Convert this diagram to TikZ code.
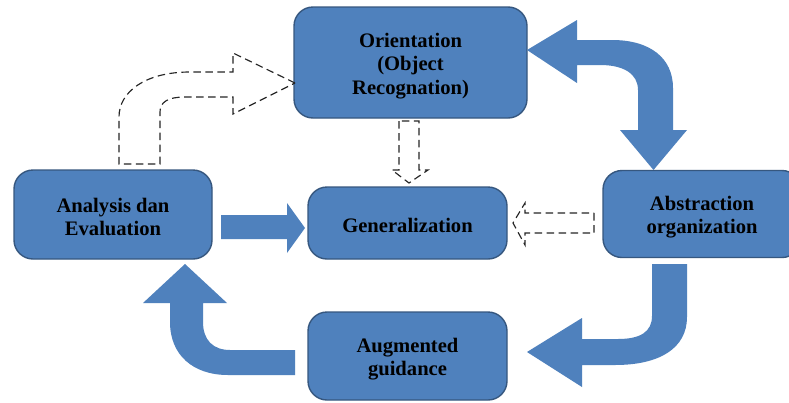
\documentclass[tikz,border=0pt]{standalone}
\usepackage{fontspec}
\setmainfont{Liberation Serif}
\definecolor{boxfill}{HTML}{4F81BD}
\definecolor{boxline}{HTML}{36577F}
\begin{document}
\begin{tikzpicture}[x=1pt,y=-1pt,
  box/.style={draw=boxline,line width=1.4pt,fill=boxfill,rounded corners=19pt,inner sep=0pt},
  txt/.style={align=center,inner sep=0pt,font=\fontsize{20.6}{23.5}\selectfont\bfseries},
  blockarrow/.style={fill=boxfill},
  dsh/.style={draw=black!85,line width=1.15pt,dash pattern=on 7.5pt off 4.5pt}]
\clip (0,0) rectangle (789,402);
\fill[white] (0,0) rectangle (789,402);
% boxes
\node[box,minimum width=233pt,minimum height=111pt] (orient) at (410.5,62.5) {};
\node[box,minimum width=198pt,minimum height=87pt] (abstr) at (702,214) {};
\node[box,minimum width=198pt,minimum height=89pt] (analysis) at (113,214.5) {};
\node[box,minimum width=199pt,minimum height=72pt] (general) at (407.5,223) {};
\node[box,minimum width=199pt,minimum height=88pt] (augment) at (407.5,356) {};
% labels
\node[txt] (orientT) at ([yshift=-3.5pt]orient.center) {Orientation\\(Object\\Recognation)};
\node[txt] (abstrT) at ([yshift=-3pt]abstr.center) {Abstraction\\organization};
\node[txt] (analysisT) at ([yshift=-2.5pt]analysis.center) {Analysis dan\\Evaluation};
\node[txt] (generalT) at ([yshift=-2pt]general.center) {Generalization};
\node[txt] (augmentT) at ([yshift=-3pt]augment.center) {Augmented\\guidance};
% double headed curved arrow Orientation <-> Abstraction
\fill[blockarrow] (527,50) -- (577,20) -- (577,40) -- (612,40)
  .. controls (650,40) and (673,58) .. (673,88) -- (673,130) -- (687,130)
  -- (653.5,170) -- (620,130) -- (638,130) -- (638,90)
  .. controls (638,74) and (624,65) .. (600,65) -- (577,65) -- (577,83) -- cycle;
% Abstraction -> Augmented
\fill[blockarrow] (652,264) -- (687,264) -- (687,317)
  .. controls (687,348) and (660,365) .. (615,365) -- (582,365) -- (582,387)
  -- (527,352) -- (582,318) -- (582,339) -- (618,339)
  .. controls (640,339) and (652,332) .. (652,316) -- cycle;
% Augmented -> Analysis
\fill[blockarrow] (295,350) -- (295,375) -- (228,375)
  .. controls (193,375) and (170,355) .. (170,322) -- (170,303) -- (143,303)
  -- (185,264) -- (227,303) -- (203,303) -- (203,322)
  .. controls (203,340) and (213,350) .. (230,350) -- cycle;
% Analysis -> Generalization
\fill[blockarrow] (221,215) -- (287,215) -- (287,203) -- (305,228)
  -- (287,253) -- (287,239) -- (221,239) -- cycle;
% dashed: Orientation -> Generalization
\draw[dsh] (399,121) -- (399,170) -- (392,170) -- (409,183) -- (428,170)
  -- (419,170) -- (419,121) -- cycle;
% dashed: Abstraction -> Generalization
\draw[dsh] (594,213) -- (594,233) -- (525,233) -- (525,245) -- (513,223)
  -- (525,203) -- (525,213) -- cycle;
% dashed: Analysis -> Orientation
\draw[dsh] (295,83) -- (233,53) -- (233,72) -- (190,72)
  .. controls (145,72) and (119,92) .. (119,117) -- (119,164) -- (160,164)
  -- (160,112) .. controls (160,102) and (168,97) .. (185,97) -- (233,97)
  -- (233,114) -- cycle;
\end{tikzpicture}
\end{document}
